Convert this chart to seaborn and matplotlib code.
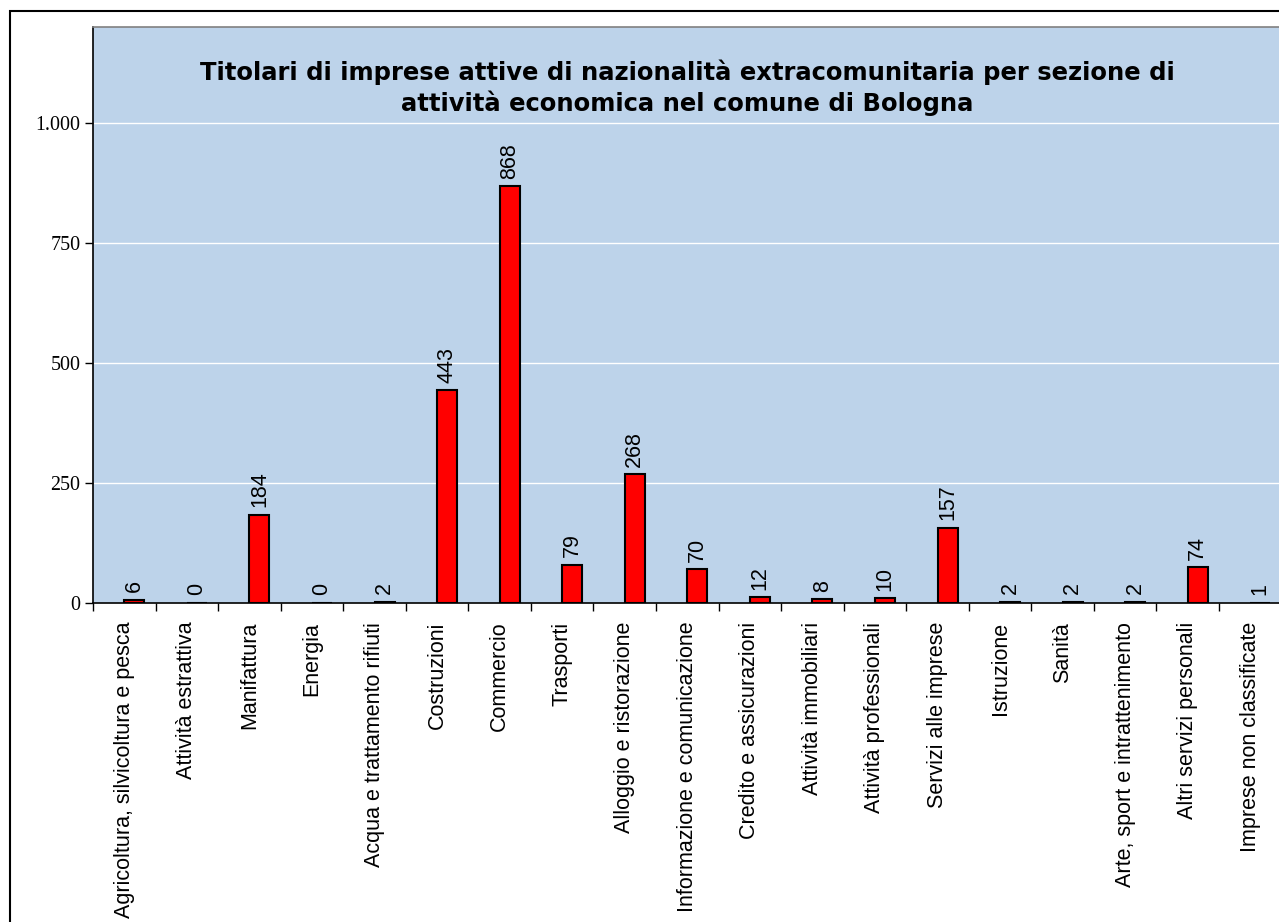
import matplotlib
matplotlib.use('Agg')
import matplotlib.pyplot as plt
import seaborn as sns
import pandas as pd
from matplotlib.patches import Rectangle

# dati: titolari di imprese extracomunitari per sezione di attività
sezioni = ['Agricoltura, silvicoltura e pesca', 'Attività estrattiva', 'Manifattura', 'Energia',
           'Acqua e trattamento rifiuti', 'Costruzioni', 'Commercio', 'Trasporti',
           'Alloggio e ristorazione', 'Informazione e comunicazione', 'Credito e assicurazioni',
           'Attività immobiliari', 'Attività professionali', 'Servizi alle imprese', 'Istruzione',
           'Sanità', 'Arte, sport e intrattenimento', 'Altri servizi personali',
           'Imprese non classificate']
titolari = [6, 0, 184, 0, 2, 443, 868, 79, 268, 70, 12, 8, 10, 157, 2, 2, 2, 74, 1]
y_ticks = [0, 250, 500, 750, 1000]
y_labels = ['0', '250', '500', '750', '1.000']

df = pd.DataFrame({'sezione': sezioni, 'titolari': titolari})

sns.set_style('white')
plt.rcParams['font.family'] = ['Liberation Sans', 'DejaVu Sans']
plt.rcParams['text.color'] = 'black'
plt.rcParams['xtick.color'] = 'black'
plt.rcParams['ytick.color'] = 'black'

fig = plt.figure(figsize=(12.79, 9.22), dpi=100)
ax = fig.add_axes([93 / 1279, 1 - 603 / 922, 1 - 93 / 1279 + 0.002, (603 - 27) / 922])
ax.set_facecolor('#BDD3EA')

sns.barplot(data=df, x='sezione', y='titolari', color='#FF0000', saturation=1, width=0.32,
            errorbar=None, edgecolor='black', linewidth=1.5, ax=ax, zorder=3)

# barre spostate a destra del centro (serie vuota a sinistra, come in Excel)
bars = ax.containers[-1]
for p in bars:
    p.set_x(p.get_x() + 0.16)

ax.bar_label(bars, labels=[str(v) for v in titolari], rotation=90,
             padding=5.5, fontsize=15.5, zorder=4)

ax.set_ylim(0, 1200)
ax.set_xlim(-0.5, len(sezioni) - 0.5)
ax.set_yticks(y_ticks)
ax.set_yticklabels(y_labels, family='Liberation Serif', fontsize=14.4)
ax.yaxis.grid(True, color='white', linewidth=1, zorder=0)
ax.set_axisbelow(True)
ax.tick_params(axis='y', length=6, width=1, color='black', pad=3, left=True)

ax.set_xticks(range(len(sezioni)))
ax.set_xticklabels(sezioni, rotation=90, fontsize=15.5)
ax.set_xticks([i - 0.5 for i in range(len(sezioni) + 1)], minor=True)
ax.tick_params(axis='x', which='major', length=0, pad=13.5)
ax.tick_params(axis='x', which='minor', length=6, width=1, color='black', bottom=True)
ax.set_xlabel('')
ax.set_ylabel('')

for s in ['left', 'bottom']:
    ax.spines[s].set_color('black')
    ax.spines[s].set_linewidth(1.2)
ax.spines['top'].set_color('#808080')
ax.spines['top'].set_linewidth(1.2)
ax.spines['right'].set_visible(False)

ax.text(0.5, 0.895, 'Titolari di imprese attive di nazionalità extracomunitaria per sezione di\n'
        'attività economica nel comune di Bologna', transform=ax.transAxes, ha='center',
        va='center', fontsize=17.5, fontweight='bold', family='DejaVu Sans', linespacing=1.27,
        zorder=5)

# cornice esterna del grafico
fig.patches.append(Rectangle((10 / 1279, -0.05), 1.1, 1 - 11 / 922 + 0.05, transform=fig.transFigure,
                             fill=False, edgecolor='black', linewidth=1.5))

fig.savefig('out.png', dpi=100)
